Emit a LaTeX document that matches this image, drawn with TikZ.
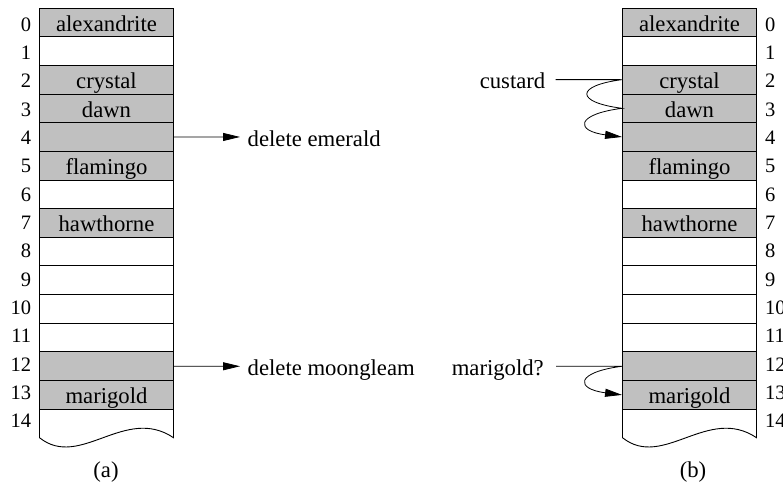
\documentclass[tikz,border=0pt]{standalone}
\usepackage{fontspec}
\setmainfont{Liberation Serif}
\usetikzlibrary{arrows.meta}
\definecolor{cellgray}{RGB}{192,192,192}
\begin{document}
\begin{tikzpicture}[x=1pt,y=-1pt,
  cell/.style={draw, line width=0.9pt, minimum width=134pt, minimum height=28.66pt,
    inner sep=0pt, text height=18pt, text depth=0pt, font=\fontsize{22.7}{26}\selectfont},
  idx/.style={inner sep=0pt, font=\fontsize{20.5}{24}\selectfont},
  lbl/.style={inner sep=0pt, font=\fontsize{22.7}{26}\selectfont},
  conn/.style={line width=0.8pt, -{Triangle[length=17pt,width=8pt]}},
  curve/.style={line width=0.8pt},
]
\path[fill=white] (0,0) rectangle (783,487);
\useasboundingbox (0,0) rectangle (783,487);

% cells of both tables
\foreach \side/\cx in {L/106.5, R/689.5} {
  \foreach \i/\f/\t in {0/cellgray/alexandrite, 1/white/{}, 2/cellgray/crystal,
      3/cellgray/dawn, 4/cellgray/{}, 5/cellgray/flamingo, 6/white/{},
      7/cellgray/hawthorne, 8/white/{}, 9/white/{}, 10/white/{}, 11/white/{},
      12/cellgray/{}, 13/cellgray/marigold} {
    \node[cell, fill=\f] (\side\i) at (\cx, {8+28.66*(\i+0.5)}) {\t};
  }
}

% last, open-ended row with wavy bottom
\foreach \dx in {0,583} {
  \begin{scope}[xshift=\dx]
    \draw[line width=0.9pt] (39.5,409.24) -- (39.5,437.7)
      .. controls (80,470) and (125,405) .. (173.5,437.7) -- (173.5,409.24);
  \end{scope}
}

% index numbers
\foreach \i in {0,...,14} {
  \node[idx, anchor=base east] (li\i) at (31.3, {31.2+28.32*\i}) {\i};
  \node[idx, anchor=base west] (ri\i) at (765, {31.2+28.32*\i}) {\i};
}

% (a): deletions
\node[lbl, anchor=base west] (del1) at (247.5,146) {delete emerald};
\node[lbl, anchor=base west] (del2) at (247.5,375) {delete moongleam};
\coordinate (t1) at (240,136.97);
\coordinate (t2) at (240,366.27);
\draw[conn] (L4.east) -- (t1);
\draw[conn] (L12.east) -- (t2);

% (b): probing
\node[lbl, anchor=base east] (cus) at (545.5,88.3) {custard};
\node[lbl, anchor=base east] (mar) at (544,375) {marigold?};
\coordinate (s1) at (555.7,79.63);
\coordinate (s2) at (556,366.27);
\draw[curve, -{Triangle[length=17pt,width=8pt]}] (s1) -- (R2.west)
  .. controls +(-47,6) and +(-47,-6) .. (R3.west)
  .. controls +(-47,6) and +(-47,-6) .. (R4.west);
\draw[curve, -{Triangle[length=17pt,width=8pt]}] (s2) -- (R12.west)
  .. controls +(-47,6) and +(-47,-6) .. (R13.west);

% captions
\node[lbl, anchor=base] (capa) at (106,477.5) {(a)};
\node[lbl, anchor=base] (capb) at (693,477.5) {(b)};
\end{tikzpicture}
\end{document}
